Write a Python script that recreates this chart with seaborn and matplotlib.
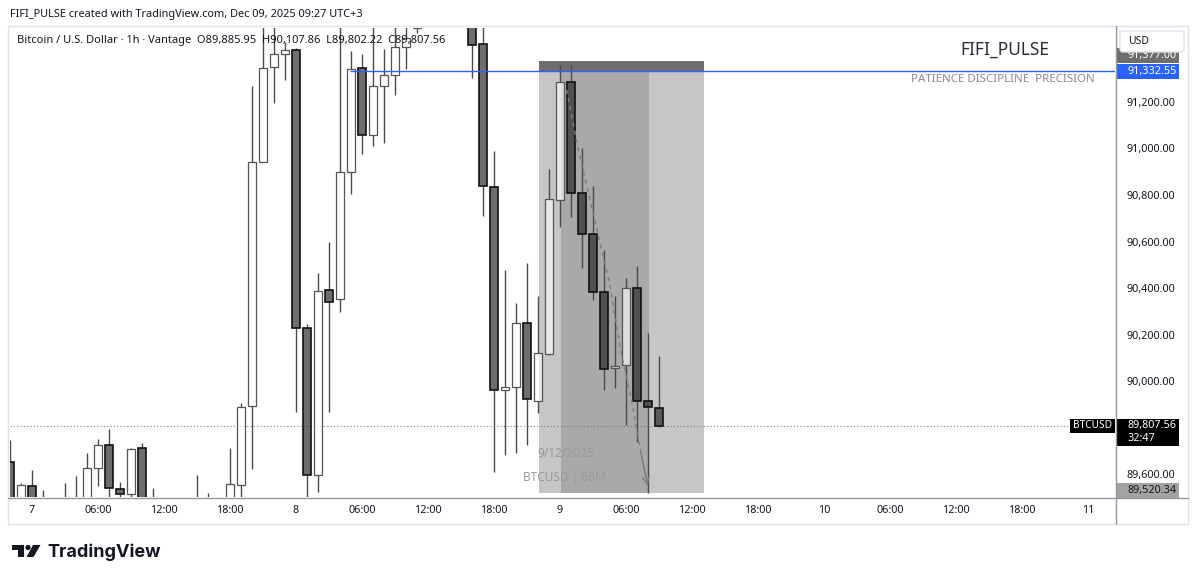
"""
BTCUSD 1h — свечной график в стиле TradingView (позиция short, FIFI_PULSE).
"""
import matplotlib
matplotlib.use('Agg')
import numpy as np
import pandas as pd
import matplotlib.pyplot as plt
import matplotlib.patches as mpatches
from matplotlib.lines import Line2D
import seaborn as sns

W, H = 1200, 581

# Часы от 7 дек 00:00 (UTC+3), свечи по 1 часу
hours = list(range(-2, 58))
opens = [89653, 89490, 89549, 89480, 89470, 89450, 89480, 89495, 89628, 89725,
         89536, 89514, 89711, 89490, 89480, 89460, 89450, 89470, 89480, 89460,
         89495, 89555, 89893, 90943, 91352, 91406, 91423, 90227, 89596, 90392,
         90352, 90900, 91345, 91058, 91269, 91316, 91438, 91520, 91650, 91720,
         91680, 91640, 91620, 91448, 90836, 89962, 89976, 90251, 89914, 90116,
         90780, 91285, 90810, 90631, 90384, 90058, 90069, 90399, 89914, 89885.95]
highs = [89746, 89560, 89618, 89532, 89495, 89563, 89592, 89692, 89750, 89793,
         89567, 89712, 89735, 89542, 89495, 89490, 89485, 89596, 89520, 89495,
         89714, 89904, 91269, 91560, 91600, 91459, 91430, 90245, 90466, 90599,
         91560, 91419, 91405, 91560, 91427, 91540, 91560, 91700, 91800, 91850,
         91760, 91700, 91660, 91560, 90989, 90478, 90337, 90506, 90365, 90911,
         91359, 91359, 91004, 90839, 90564, 90366, 90442, 90495, 90208, 90107.86]
lows = [89450, 89470, 89460, 89440, 89430, 89420, 89440, 89470, 89549, 89480,
        89480, 89490, 89470, 89440, 89420, 89400, 89410, 89440, 89430, 89420,
        89470, 89480, 89620, 90940, 91197, 91295, 89868, 89470, 89524, 89868,
        90298, 90804, 90976, 91011, 91025, 91230, 91341, 91497, 91560, 91600,
        91580, 91540, 91302, 90710, 89610, 89682, 89689, 89725, 89862, 90110,
        90664, 90707, 90485, 90349, 89962, 89969, 89811, 89739, 89520, 89802.22]
closes = [89480, 89553, 89490, 89470, 89450, 89480, 89495, 89625, 89725, 89539,
          89513, 89707, 89490, 89480, 89460, 89450, 89470, 89480, 89460, 89490,
          89557, 89890, 90943, 91347, 91405, 91423, 90227, 89596, 90389, 90341,
          90900, 91341, 91058, 91269, 91316, 91438, 91474, 91650, 91720, 91680,
          91640, 91620, 91445, 90839, 89962, 89976, 90251, 89922, 90119, 90783,
          91285, 90810, 90631, 90384, 90051, 90065, 90399, 89914, 89890, 89807.56]

x_ticks = list(range(0, 97, 6))
x_labels = ['7', '06:00', '12:00', '18:00', '8', '06:00', '12:00', '18:00',
            '9', '06:00', '12:00', '18:00', '10', '06:00', '12:00', '18:00', '11']
price_ticks = [89600, 90000, 90200, 90400, 90600, 90800, 91000, 91200]

# Инструмент «позиция»
entry_price = 91332.55
stop_price = 91377.00
target_price = 89520.34
last_price = 89807.56
box_edges = [46.1, 48.06, 56.1, 61.1]
ray_start = 28.9

# Пунктирная траектория внутри позиции
path_hours = [48.6, 49.6, 52.5, 53.5, 54.5, 55.3, 56.0]
path_prices = [91252, 91008, 90421, 90134, 89919, 89704, 89540]

sns.set_theme(style='white')
plt.rcParams['font.family'] = ['Noto Sans', 'DejaVu Sans']
TXT = '#131722'

df = pd.DataFrame({'hour': hours, 'open': opens, 'high': highs,
                   'low': lows, 'close': closes})
df['top'] = df[['open', 'close']].max(axis=1)
df['bot'] = df[['open', 'close']].min(axis=1)
up = df['close'] >= df['open']

fig = plt.figure(figsize=(W / 100, H / 100), dpi=100)
fig.patch.set_facecolor('white')
ax = fig.add_axes([10 / W, 1 - 497 / H, 1105 / W, 469 / H])
ax.set_facecolor('white')
ax.set_xlim(-2, 98.45)
ax.set_ylim(89501.5, 91518)

# Зоны позиции
light, mid, band = '#c6c6c6', '#a9a9a9', '#6e6e6e'
ax.add_patch(mpatches.Rectangle((box_edges[0], target_price), box_edges[1] - box_edges[0],
                                entry_price - target_price, fc=light, ec='none', zorder=1))
ax.add_patch(mpatches.Rectangle((box_edges[1], target_price), box_edges[2] - box_edges[1],
                                entry_price - target_price, fc=mid, ec='none', zorder=1))
ax.add_patch(mpatches.Rectangle((box_edges[2], target_price), box_edges[3] - box_edges[2],
                                entry_price - target_price, fc=light, ec='none', zorder=1))
ax.add_patch(mpatches.Rectangle((box_edges[0], entry_price), box_edges[3] - box_edges[0],
                                stop_price - entry_price, fc=band, ec='none', zorder=1))

# Линии
ax.axhline(last_price, color='#7a7a7a', lw=0.8, ls=(0, (1, 2)), zorder=2)
ax.hlines(entry_price, ray_start, 98.45, color='#2962ff', lw=1, zorder=6)

# Свечи
ax.vlines(df['hour'], df['top'], df['high'], color='#4a4a4a', lw=1, zorder=3)
ax.vlines(df['hour'], df['low'], df['bot'], color='#4a4a4a', lw=1, zorder=3)
ax.bar(df['hour'][up], (df['close'] - df['open'])[up], bottom=df['open'][up],
       width=0.66, facecolor=(1, 1, 1, 0.6), edgecolor='#555555', lw=0.9, zorder=4)
ax.bar(df['hour'][~up], (df['open'] - df['close'])[~up], bottom=df['close'][~up],
       width=0.66, facecolor=(0.13, 0.13, 0.13, 0.65), edgecolor='#111111', lw=1.2, zorder=4)

# Траектория
sns.lineplot(x=path_hours, y=path_prices, ax=ax, color='#7d7d7d', lw=1,
             linestyle=(0, (3, 3)), zorder=5, sort=False)
ax.annotate('', xy=(path_hours[-1], path_prices[-1]),
            xytext=(path_hours[-2], path_prices[-2]),
            arrowprops=dict(arrowstyle='->', color='#7d7d7d', lw=1), zorder=5)

ax.text(48.5, 89690, '9/12/2025', ha='center', va='center', color='#9a9a9a', fontsize=8.5, zorder=5)
ax.text(48.4, 89586, 'BTCUSD | 60M', ha='center', va='center', color='#9a9a9a', fontsize=8.5, zorder=5)

# Оси
ax.set_xticks(x_ticks)
ax.set_xticklabels(x_labels)
ax.yaxis.tick_right()
ax.set_yticks(price_ticks)
ax.set_yticklabels([f'{p:,.2f}' for p in price_ticks])
ax.tick_params(axis='y', length=0, pad=8, labelsize=7.8, labelcolor=TXT)
ax.tick_params(axis='x', length=0, pad=6, labelsize=7.8, labelcolor=TXT)
for s in ax.spines.values():
    s.set_visible(False)
ax.grid(False)

# Слой оформления в пикселях
deco = fig.add_axes([0, 0, 1, 1], zorder=10)
deco.set_xlim(0, W)
deco.set_ylim(H, 0)
deco.axis('off')
deco.patch.set_alpha(0)


def ypx(price):
    return H - ax.transData.transform((0, price))[1]


deco.add_patch(mpatches.Rectangle((8, 26), 1180, 498, fc='none', ec='#e0e3eb', lw=1))
deco.add_line(Line2D([1115.5, 1115.5], [26, 524], color='#9598a1', lw=1))
deco.add_line(Line2D([8, 1188], [497.5, 497.5], color='#9598a1', lw=1))

deco.text(10, 14, 'FIFI_PULSE created with TradingView.com, Dec 09, 2025 09:27 UTC+3',
          va='center', ha='left', fontsize=7.9, color=TXT)
deco.text(17, 40, 'Bitcoin / U.S. Dollar · 1h · Vantage  O89,885.95  H90,107.86  '
          'L89,802.22  C89,807.56', va='center', ha='left', fontsize=8.0, color=TXT)
deco.text(1005, 50, 'FIFI_PULSE', ha='center', va='center', fontsize=12.5, color='#2a2e39')
deco.text(1003, 79, 'PATIENCE DISCIPLINE  PRECISION', ha='center', va='center',
          fontsize=8.3, color='#8a8a8a')


def badge(yc, text, fc, tc, h=15, x0=1117, x1=1179):
    deco.add_patch(mpatches.Rectangle((x0, yc - h / 2), x1 - x0, h, fc=fc, ec='none'))
    deco.text(1127, yc, text, va='center', ha='left', fontsize=7.8, color=tc)


badge(ypx(stop_price) - 5, f'{stop_price:,.2f}', '#6e6e6e', 'white')
badge(ypx(entry_price), f'{entry_price:,.2f}', '#2962ff', 'white')
badge(ypx(target_price) - 2.5, f'{target_price:,.2f}', '#a3a3a3', TXT)

# USD (поверх серой метки стопа)
deco.add_patch(mpatches.FancyBboxPatch((1120, 31), 64, 21, boxstyle='round,pad=0,rounding_size=3',
                                       fc='white', ec='#e0e3eb', lw=1, zorder=3))
deco.text(1128, 42, 'USD', va='center', ha='left', fontsize=7.5, color=TXT, zorder=4)

yl = ypx(last_price)
deco.add_patch(mpatches.Rectangle((1117, yl - 7), 62, 27, fc='black', ec='none'))
deco.text(1127, yl, f'{last_price:,.2f}', va='center', ha='left', fontsize=7.8, color='white')
deco.text(1127, yl + 13, '32:47', va='center', ha='left', fontsize=7.8, color='white')
deco.add_patch(mpatches.Rectangle((1070, yl - 7), 45, 14, fc='black', ec='none'))
deco.text(1092, yl, 'BTCUSD', va='center', ha='center', fontsize=7.3, color='white', fontweight='bold')

# Логотип TradingView
deco.add_patch(mpatches.Rectangle((12, 545), 12, 5, fc='#131722', ec='none'))
deco.add_patch(mpatches.Rectangle((18, 545), 6, 12, fc='#131722', ec='none'))
deco.add_patch(mpatches.Circle((28, 547.5), 2.6, fc='#131722', ec='none'))
deco.add_patch(mpatches.Polygon([(33, 545), (40.5, 545), (33.5, 557), (26.5, 557)],
                                fc='#131722', ec='none'))
deco.text(47, 552, 'TradingView', va='center', ha='left', fontsize=13,
          fontweight='bold', color='#131722', family=['Inter', 'DejaVu Sans'])

fig.savefig('out.png', dpi=100, facecolor='white')
